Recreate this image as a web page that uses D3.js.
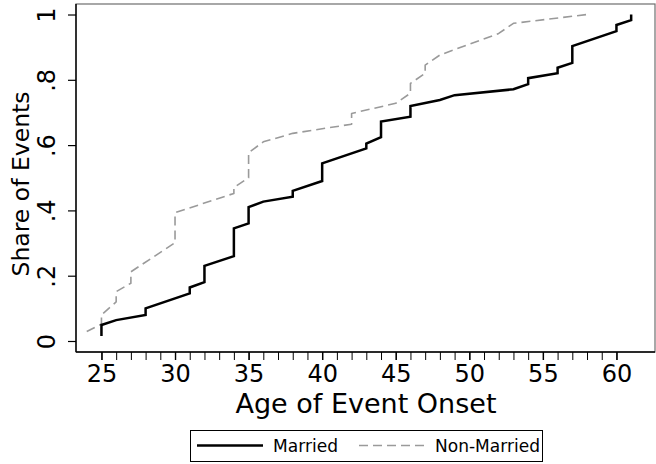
<!DOCTYPE html>
<html>
<head>
<meta charset="utf-8">
<script src="https://cdn.jsdelivr.net/npm/d3@7"></script>
<style>
  html, body { margin: 0; padding: 0; background: #fff; }
  svg { display: block; font-family: "DejaVu Sans", sans-serif; }
</style>
</head>
<body>
<svg id="chart" width="656" height="464"></svg>
<script>
// Cumulative share of events by age of onset, married vs non-married
const marriedAge = [25, 25, 26, 28, 28, 31, 31, 32, 32, 34, 34, 35, 35, 36, 38, 38, 40, 40, 43, 43, 44, 44, 46, 46, 48, 49, 53, 54, 54, 56, 56, 57, 57, 60, 60, 61, 61];
const marriedShare = [0.015, 0.049, 0.064, 0.080, 0.100, 0.146, 0.164, 0.180, 0.230, 0.260, 0.345, 0.360, 0.410, 0.427, 0.442, 0.460, 0.490, 0.544, 0.590, 0.605, 0.624, 0.672, 0.687, 0.720, 0.738, 0.753, 0.771, 0.787, 0.805, 0.820, 0.837, 0.852, 0.903, 0.949, 0.968, 0.983, 1.000];

const nonMarriedAge = [24, 25, 25, 26, 26, 27, 27, 30, 30, 34, 34, 35, 35, 36, 38, 42, 42, 45, 46, 46, 47, 47, 48, 52, 53, 58];
const nonMarriedShare = [0.029, 0.052, 0.080, 0.120, 0.151, 0.177, 0.212, 0.301, 0.393, 0.452, 0.470, 0.500, 0.577, 0.610, 0.636, 0.664, 0.697, 0.728, 0.759, 0.789, 0.820, 0.845, 0.876, 0.942, 0.973, 1.000];

const xTickValues = [25, 30, 35, 40, 45, 50, 55, 60];
const xMinorTicks = d3.range(25, 61, 1);
const yTickValues = [0, 0.2, 0.4, 0.6, 0.8, 1];
const yTickLabels = ["0", ".2", ".4", ".6", ".8", "1"];
const seriesNames = ["Married", "Non-Married"];

const svg = d3.select("#chart");
const plot = { left: 76, right: 655, top: 4, bottom: 352 };

const x = d3.scaleLinear().domain([23.27, 62.62]).range([plot.left, plot.right]);
const y = d3.scaleLinear().domain([-0.0337, 1.0322]).range([plot.bottom, plot.top]);

// plot region frame
svg.append("rect")
  .attr("x", plot.left).attr("y", plot.top)
  .attr("width", plot.right - plot.left).attr("height", plot.bottom - plot.top)
  .attr("fill", "#fff").attr("stroke", "#6e6e6e").attr("stroke-width", 1.2);

// x axis: minor ticks every year, labelled major ticks every 5
const xAxisG = svg.append("g").attr("transform", `translate(0,${plot.bottom})`);
xAxisG.call(d3.axisBottom(x).tickValues(xMinorTicks).tickSize(8).tickFormat(""))
  .call(g => g.select(".domain").remove())
  .call(g => g.selectAll(".tick line").attr("stroke", "#000").attr("stroke-width", 1));
const xMajorG = svg.append("g").attr("transform", `translate(0,${plot.bottom})`);
xMajorG.call(d3.axisBottom(x).tickValues(xTickValues).tickSize(8).tickPadding(5).tickFormat(d3.format("d")))
  .call(g => g.select(".domain").remove())
  .call(g => g.selectAll(".tick line").attr("stroke", "#000").attr("stroke-width", 1.4))
  .call(g => g.selectAll(".tick text").attr("font-size", 24).attr("fill", "#000")
    .attr("font-family", "DejaVu Sans"));
svg.append("line")
  .attr("x1", plot.left).attr("x2", plot.right)
  .attr("y1", plot.bottom).attr("y2", plot.bottom)
  .attr("stroke", "#000").attr("stroke-width", 1.4);

// y axis with rotated labels
const yAxisG = svg.append("g").attr("transform", `translate(${plot.left},0)`);
yAxisG.call(d3.axisLeft(y).tickValues(yTickValues).tickSize(8)
    .tickFormat((d, i) => yTickLabels[i]))
  .call(g => g.select(".domain").remove())
  .call(g => g.selectAll(".tick line").attr("stroke", "#000").attr("stroke-width", 1.2))
  .call(g => g.selectAll(".tick text")
    .attr("font-size", 24).attr("fill", "#000").attr("font-family", "DejaVu Sans")
    .attr("text-anchor", "middle").attr("dy", 0)
    .attr("transform", "translate(-21,0) rotate(-90)")
    .attr("x", 0).attr("y", 0));
svg.append("line")
  .attr("x1", plot.left).attr("x2", plot.left)
  .attr("y1", plot.top).attr("y2", plot.bottom)
  .attr("stroke", "#000").attr("stroke-width", 1.4);

// axis titles
svg.append("text")
  .attr("x", 366).attr("y", 413)
  .attr("text-anchor", "middle").attr("font-size", 27).attr("fill", "#000")
  .text("Age of Event Onset");
svg.append("text")
  .attr("transform", "translate(29,184) rotate(-90)")
  .attr("text-anchor", "middle").attr("font-size", 23.5).attr("fill", "#000")
  .text("Share of Events");

// series lines
const line = d3.line().x(d => x(d[0])).y(d => y(d[1]));
const nonMarried = nonMarriedAge.map((a, i) => [a, nonMarriedShare[i]]);
const married = marriedAge.map((a, i) => [a, marriedShare[i]]);

svg.append("path").datum(nonMarried)
  .attr("d", line).attr("fill", "none")
  .attr("stroke", "#9a9a9a").attr("stroke-width", 1.6)
  .attr("stroke-dasharray", "9,5").attr("stroke-linejoin", "round");
svg.append("path").datum(married)
  .attr("d", line).attr("fill", "none")
  .attr("stroke", "#000").attr("stroke-width", 2.5)
  .attr("stroke-linejoin", "miter");

// legend
const legend = svg.append("g");
legend.append("rect")
  .attr("x", 190.5).attr("y", 430.5).attr("width", 352).attr("height", 31)
  .attr("fill", "#fff").attr("stroke", "#000").attr("stroke-width", 1);
legend.append("line")
  .attr("x1", 197).attr("x2", 263).attr("y1", 445.5).attr("y2", 445.5)
  .attr("stroke", "#000").attr("stroke-width", 2.4);
legend.append("text")
  .attr("x", 273).attr("y", 452).attr("font-size", 18.5).attr("fill", "#000")
  .attr("textLength", 65).attr("lengthAdjust", "spacingAndGlyphs")
  .text(seriesNames[0]);
legend.append("line")
  .attr("x1", 359).attr("x2", 424).attr("y1", 445.5).attr("y2", 445.5)
  .attr("stroke", "#9a9a9a").attr("stroke-width", 1.6).attr("stroke-dasharray", "9,5");
legend.append("text")
  .attr("x", 435).attr("y", 452).attr("font-size", 18.5).attr("fill", "#000")
  .attr("textLength", 105).attr("lengthAdjust", "spacingAndGlyphs")
  .text(seriesNames[1]);
</script>
</body>
</html>
